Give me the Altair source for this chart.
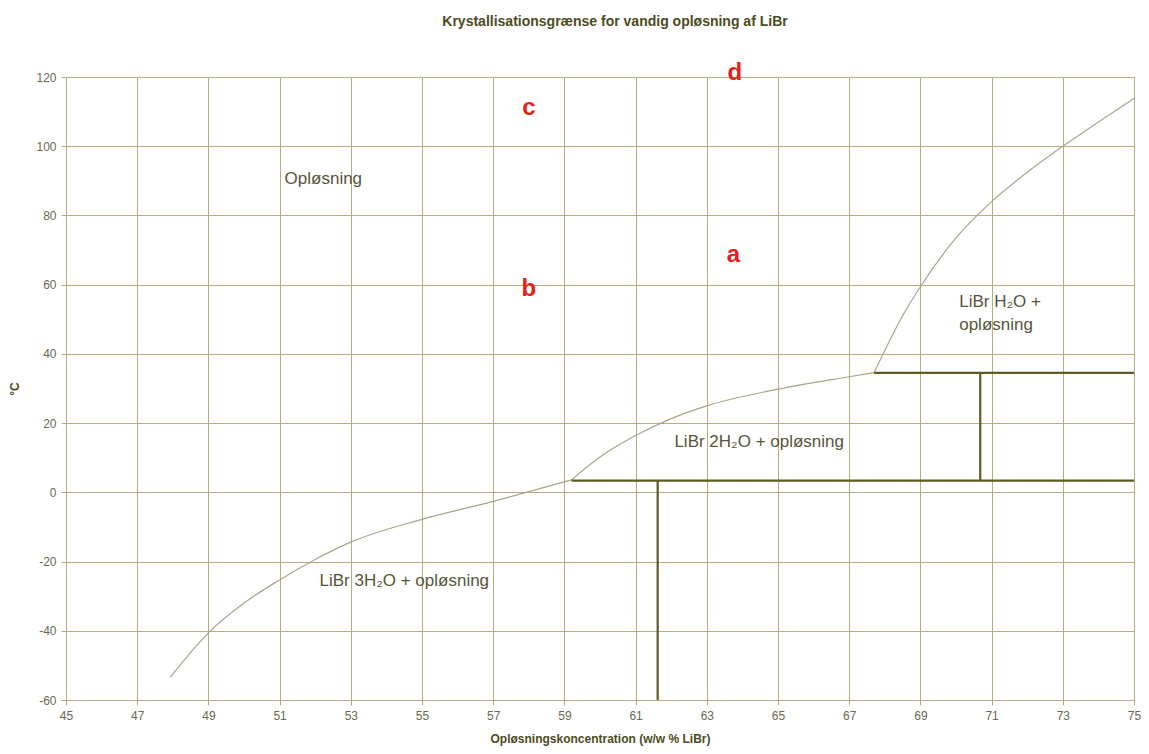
import altair as alt
import pandas as pd

# Crystallisation (liquidus) curve, three branches
seg_a_x = [47.93, 49.0, 50.0, 51.0, 52.0, 53.0, 55.0, 57.0, 58.0, 59.2]
seg_a_y = [-53.4, -40.6, -32.0, -25.3, -19.4, -14.4, -7.8, -2.6, 0.2, 3.6]
seg_b_x = [59.2, 60.0, 61.0, 62.0, 63.0, 65.0, 67.0, 67.7]
seg_b_y = [3.6, 10.2, 16.4, 21.3, 25.0, 29.8, 33.4, 34.6]
seg_c_x = [67.7, 68.0, 68.5, 69.0, 70.0, 71.0, 72.0, 73.0, 74.0, 75.0]
seg_c_y = [34.6, 41.0, 51.0, 59.4, 73.5, 84.0, 92.5, 100.0, 107.0, 113.8]

# Thick phase-boundary lines (start/end)
rule_x1 = [67.7, 59.2, 70.68, 61.62]
rule_y1 = [34.5, 3.4, 34.5, 3.4]
rule_x2 = [75.0, 75.0, 70.68, 61.62]
rule_y2 = [34.5, 3.4, 3.4, -60.0]

# Region labels
label_text = ["Opløsning", "LiBr 3H₂O + opløsning", "LiBr 2H₂O + opløsning",
              "LiBr H₂O +", "opløsning"]
label_x = [51.14, 52.12, 62.09, 70.09, 70.09]
label_y = [90.4, -25.6, 14.6, 55.1, 48.3]

# Red point letters
pt_text = ["a", "b", "c", "d"]
pt_x = [63.75, 58.0, 58.0, 63.79]
pt_y = [68.6, 58.7, 110.95, 121.2]

x_ticks = list(range(45, 76, 2))
y_ticks = list(range(-60, 121, 20))

curve_df = pd.DataFrame({
    "x": seg_a_x + seg_b_x + seg_c_x,
    "y": seg_a_y + seg_b_y + seg_c_y,
    "seg": ["a"] * len(seg_a_x) + ["b"] * len(seg_b_x) + ["c"] * len(seg_c_x),
    "i": list(range(len(seg_a_x))) + list(range(len(seg_b_x))) + list(range(len(seg_c_x))),
})
rule_df = pd.DataFrame({"x": rule_x1, "y": rule_y1, "x2": rule_x2, "y2": rule_y2})
label_df = pd.DataFrame({"t": label_text, "x": label_x, "y": label_y})
pt_df = pd.DataFrame({"t": pt_text, "x": pt_x, "y": pt_y})

FONT = "Liberation Sans"
GRID = "#b4af7e"
LABEL = "#6b6950"

xscale = alt.Scale(domain=[45, 75], nice=False, zero=False)
yscale = alt.Scale(domain=[-60, 120], nice=False, zero=False)

xenc = alt.X("x:Q", scale=xscale,
             axis=alt.Axis(values=x_ticks, title="Opløsningskoncentration (w/w % LiBr)",
                           labelExpr="datum.value + ''", labelFlush=False))
yenc = alt.Y("y:Q", scale=yscale,
             axis=alt.Axis(values=y_ticks, title="°C", labelExpr="datum.value + ''",
                           titleAngle=-90))

curve = alt.Chart(curve_df).mark_line(
    color="#a9a58a", strokeWidth=1.2, interpolate="monotone"
).encode(x=xenc, y=yenc, detail="seg:N", order="i:Q")

rules = alt.Chart(rule_df).mark_rule(color="#5e5a26", strokeWidth=2.2).encode(
    x="x:Q", y="y:Q", x2="x2:Q", y2="y2:Q")

labels = alt.Chart(label_df).mark_text(
    align="left", baseline="middle", font=FONT, fontSize=17, color="#57553a"
).encode(x="x:Q", y="y:Q", text="t:N")

pts = alt.Chart(pt_df).mark_text(
    align="center", baseline="middle", font=FONT, fontSize=24, fontWeight="bold",
    color="#e3201c"
).encode(x="x:Q", y="y:Q", text="t:N")

chart = alt.layer(curve, rules, labels, pts).properties(
    width=1068, height=623,
    title=alt.TitleParams("Krystallisationsgrænse for vandig opløsning af LiBr",
                          font=FONT, fontSize=14, fontWeight="bold", color="#4d4b22",
                          anchor="middle", offset=32, dx=15),
    autosize=alt.AutoSizeParams(type="none"),
    padding={"left": 58, "top": 69, "right": 7, "bottom": 46},
).configure_view(
    stroke=GRID, strokeWidth=1
).configure_axis(
    grid=True, gridColor=GRID, gridWidth=1, gridOpacity=1,
    domainColor=GRID, tickColor=GRID, tickSize=5,
    labelFont=FONT, labelFontSize=12, labelColor=LABEL, labelPadding=5,
    titleFont=FONT, titleFontSize=12, titleFontWeight="bold", titleColor="#4d4b22",
).configure_axisX(
    titlePadding=12
).configure_axisY(
    titlePadding=14
)

chart.save("out.html", embed_options={"renderer": "svg", "actions": False})
